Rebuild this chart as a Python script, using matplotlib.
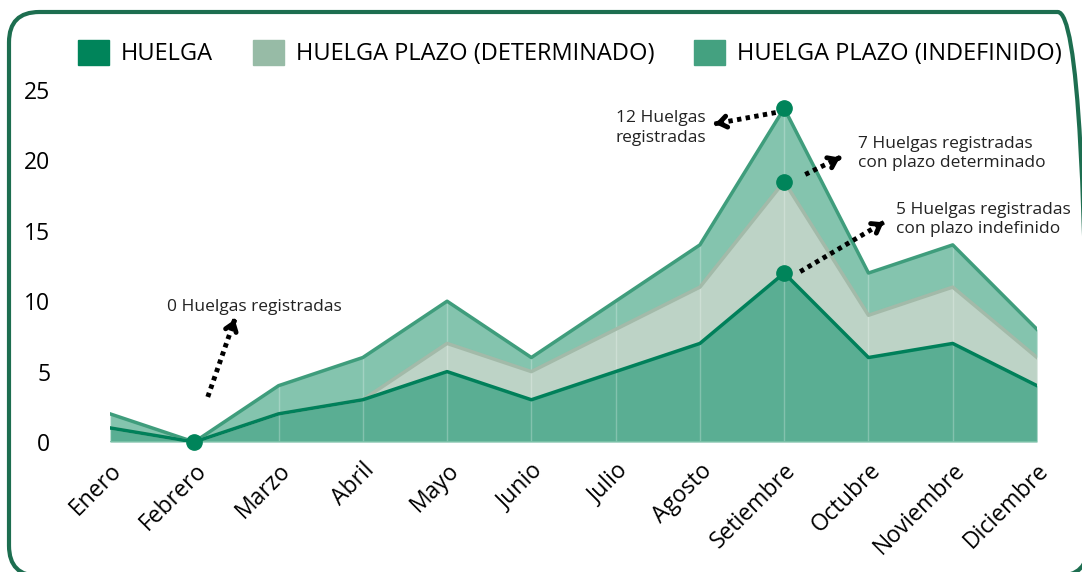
import matplotlib.pyplot as plt
from matplotlib.patches import FancyBboxPatch, Patch

plt.rcParams['font.family'] = ['Open Sans', 'DejaVu Sans']

meses = ["Enero", "Febrero", "Marzo", "Abril", "Mayo", "Junio", "Julio",
         "Agosto", "Setiembre", "Octubre", "Noviembre", "Diciembre"]
huelga = [1, 0, 2, 3, 5, 3, 5, 7, 12, 6, 7, 4]
determinado = [0, 0, 0, 0, 2, 2, 3, 4, 6.5, 3, 4, 2]
indefinido = [1, 0, 2, 3, 3, 1, 2, 3, 5.2, 3, 3, 2]
series_labels = ["HUELGA", "HUELGA PLAZO (DETERMINADO)", "HUELGA PLAZO (INDEFINIDO)"]

fill_cols = ["#5aae93", "#bdd3c6", "#84c4ae"]
line_cols = ["#00805a", "#a3baa9", "#3f9d7c"]
legend_cols = ["#00845a", "#97bba6", "#44a180"]

x = list(range(len(meses)))
nivel1 = huelga
nivel2 = [a + b for a, b in zip(nivel1, determinado)]
nivel3 = [a + b for a, b in zip(nivel2, indefinido)]

fig = plt.figure(figsize=(10.82, 5.72), dpi=100)
ax = fig.add_axes([110 / 1082, 1 - 442 / 572, 927 / 1082, 352 / 572])

# areas apiladas
ax.fill_between(x, nivel2, nivel3, color=fill_cols[2], lw=0, zorder=1)
ax.fill_between(x, nivel1, nivel2, color=fill_cols[1], lw=0, zorder=1)
ax.fill_between(x, 0, nivel1, color=fill_cols[0], lw=0, zorder=1)
ax.plot(x, nivel3, color=line_cols[2], lw=2.5, zorder=3)
ax.plot(x, nivel2, color=line_cols[1], lw=2.5, zorder=3)
ax.plot(x, nivel1, color=line_cols[0], lw=2.5, zorder=4)
for xi in x:
    ax.axvline(xi, color="white", alpha=0.25, lw=1, zorder=2)
ax.axhline(0, color="#7cc3a9", lw=2, zorder=2)

# puntos destacados
ax.plot([1], [nivel1[1]], "o", color="#00845a", ms=11, zorder=6, clip_on=False)
ax.plot([8, 8, 8], [nivel1[8], nivel2[8], nivel3[8]], "o", color="#00845a",
        ms=11, zorder=6, clip_on=False)


def flecha(x0, y0, x1, y1):
    ax.plot([x0, x1], [y0, y1], color="black", lw=3.5,
            linestyle=(0, (0.9, 0.9)), solid_capstyle="butt",
            dash_capstyle="butt", zorder=7)
    dx, dy = x1 - x0, y1 - y0
    ax.annotate("", xy=(x1, y1), xytext=(x1 - 0.02 * dx, y1 - 0.02 * dy),
                arrowprops=dict(arrowstyle="->,head_length=0.55,head_width=0.4",
                                lw=3.5, color="black", shrinkA=0, shrinkB=0),
                zorder=7)


flecha(1.16, 3.2, 1.48, 8.7)
ax.text(1.71, 9.6, "0 Huelgas registradas", ha="center", va="center",
        fontsize=12.5, color="#222222")
flecha(7.9, 23.4, 7.18, 22.6)
ax.text(7.07, 22.3, "12 Huelgas\nregistradas", ha="right", va="center",
        fontsize=12.5, linespacing=1.3, color="#222222")
flecha(8.25, 19.0, 8.66, 20.2)
ax.text(8.88, 20.5, "7 Huelgas registradas\ncon plazo determinado", ha="left",
        va="center", fontsize=12.5, linespacing=1.3, color="#222222")
flecha(8.19, 12.1, 9.18, 15.6)
ax.text(9.33, 15.8, "5 Huelgas registradas\ncon plazo indefinido", ha="left",
        va="center", fontsize=12.5, linespacing=1.3, color="#222222")

ax.set_xlim(0, 11)
ax.set_ylim(0, 25)
ax.set_yticks([0, 5, 10, 15, 20, 25])
ax.set_xticks(x)
ax.set_xticklabels(meses, rotation=45, ha="right", rotation_mode="anchor", fontsize=16.5)
ax.tick_params(axis="y", labelsize=16.5, length=0, pad=43)
ax.tick_params(axis="x", length=0, pad=12)
for s in ax.spines.values():
    s.set_visible(False)
ax.patch.set_alpha(0)

handles = [Patch(color=c) for c in legend_cols]
fig.legend(handles, series_labels, loc="center", bbox_to_anchor=(570 / 1082, 1 - 53 / 572),
           ncol=3, frameon=False, fontsize=17, handlelength=1.3, handleheight=1.3,
           handletextpad=0.5, columnspacing=1.7)

border = FancyBboxPatch((9 / 1082, -4 / 572), 1079 / 1082, 1 - 12 / 572 + 4 / 572,
                        boxstyle="round,pad=0,rounding_size=0.028",
                        transform=fig.transFigure, fill=False,
                        ec="#1d6e50", lw=3, mutation_aspect=1082 / 572)
fig.patches.append(border)

fig.savefig("out.png", dpi=100)
